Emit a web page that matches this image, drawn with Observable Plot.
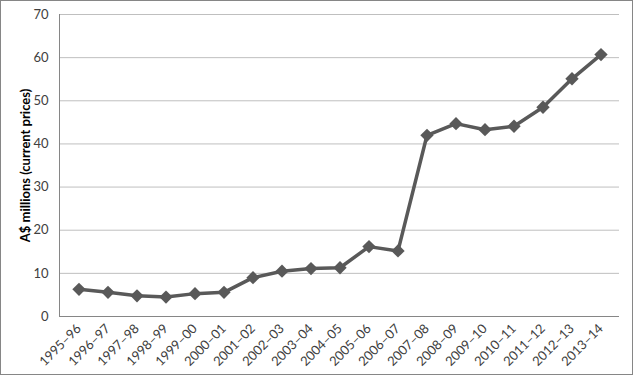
<!DOCTYPE html>
<html><head><meta charset="utf-8">
<script src="https://cdn.jsdelivr.net/npm/d3@7"></script>
<script src="https://cdn.jsdelivr.net/npm/@observablehq/plot@0.6"></script>
<style>
body{margin:0;background:#fff;}
#chart svg{display:block;outline:1px solid #868686;outline-offset:-1px;}
</style>
</head><body><div id="chart"></div>
<script>
const years = ["1995–96","1996–97","1997–98","1998–99","1999–00","2000–01","2001–02","2002–03","2003–04","2004–05","2005–06","2006–07","2007–08","2008–09","2009–10","2010–11","2011–12","2012–13","2013–14"];
const values = [6.3,5.6,4.8,4.5,5.3,5.6,9.0,10.5,11.1,11.3,16.2,15.2,42.0,44.7,43.3,44.1,48.5,55.1,60.7];
const yTicks = [0,10,20,30,40,50,60,70];
const yLabel = "A$ millions (current prices)";

const data = years.map((y,i)=>({year:y, value:values[i]}));

const chart = Plot.plot({
  width:633, height:375,
  marginLeft:59, marginRight:14, marginTop:14, marginBottom:59,
  style:{fontFamily:"Lato, 'Open Sans', sans-serif", fontSize:"12px", color:"#404040", background:"#fff"},
  x:{type:"band", domain:years, padding:0},
  y:{domain:[0,70]},
  marks:[
    Plot.gridY(yTicks, {stroke:"#bfbfbf", strokeOpacity:1, strokeWidth:1}),
    Plot.frame({anchor:"left", stroke:"#868686"}),
    Plot.ruleY([0], {stroke:"#868686"}),
    Plot.axisY(yTicks, {tickSize:0, tickPadding:11, label:null, fontSize:13}),
    Plot.axisX({tickSize:0, tickPadding:10, tickRotate:-45, label:null, fontSize:13}),
    Plot.text([yLabel], {frameAnchor:"left", dx:-34, rotate:-90, textAnchor:"middle", fontWeight:"bold", fontSize:13, fill:"#000"}),
    Plot.line(data, {x:"year", y:"value", stroke:"#595959", strokeWidth:3.5}),
    Plot.dot(data, {x:"year", y:"value", symbol:"diamond2", r:6, fill:"#595959", stroke:"none"})
  ]
});
document.getElementById("chart").append(chart);
</script></body></html>
